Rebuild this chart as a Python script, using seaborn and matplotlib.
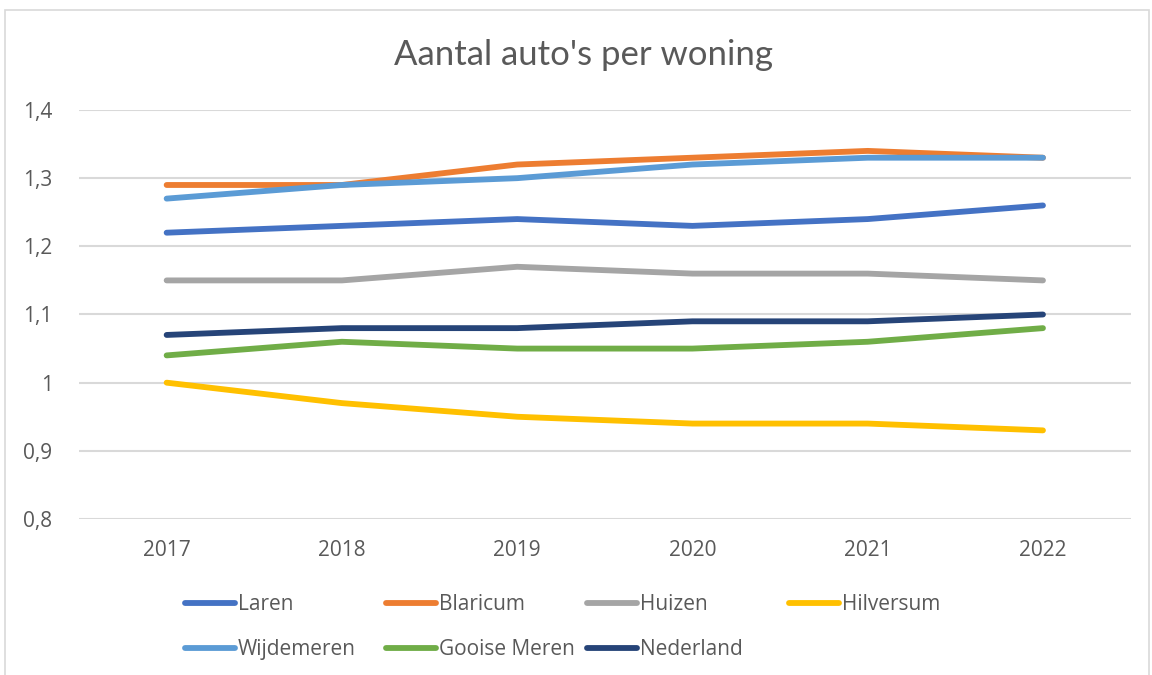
import numpy as np
import pandas as pd
import seaborn as sns
import matplotlib.pyplot as plt
from matplotlib.lines import Line2D
from matplotlib.patches import Rectangle

years = [2017, 2018, 2019, 2020, 2021, 2022]
laren = [1.22, 1.23, 1.24, 1.23, 1.24, 1.26]
blaricum = [1.29, 1.29, 1.32, 1.33, 1.34, 1.33]
huizen = [1.15, 1.15, 1.17, 1.16, 1.16, 1.15]
hilversum = [1.00, 0.97, 0.95, 0.94, 0.94, 0.93]
wijdemeren = [1.27, 1.29, 1.30, 1.32, 1.33, 1.33]
gooise_meren = [1.04, 1.06, 1.05, 1.05, 1.06, 1.08]
nederland = [1.07, 1.08, 1.08, 1.09, 1.09, 1.10]

names = ['Laren', 'Blaricum', 'Huizen', 'Hilversum', 'Wijdemeren', 'Gooise Meren', 'Nederland']
series = [laren, blaricum, huizen, hilversum, wijdemeren, gooise_meren, nederland]
colors = ['#4472C4', '#ED7D31', '#A5A5A5', '#FFC000', '#5B9BD5', '#70AD47', '#264478']

yticks = [0.8, 0.9, 1.0, 1.1, 1.2, 1.3, 1.4]
ytick_labels = ['0,8', '0,9', '1', '1,1', '1,2', '1,3', '1,4']

df = pd.DataFrame({
    'jaar': years * len(names),
    'waarde': np.concatenate(series),
    'gemeente': np.repeat(names, len(years)),
})

sns.set_theme(style='white')
plt.rcParams['font.family'] = ['Open Sans', 'DejaVu Sans']
txt = '#595959'
grid = '#D9D9D9'
lw = 4.2

fig = plt.figure(figsize=(11.52, 6.75), dpi=100)
ax = fig.add_axes([79 / 1152, 1 - 519 / 675, (1130.6 - 79) / 1152, (519 - 110) / 675])

sns.lineplot(data=df, x='jaar', y='waarde', hue='gemeente', hue_order=names,
             palette=dict(zip(names, colors)), lw=lw, solid_capstyle='round',
             sort=False, legend=False, ax=ax, zorder=3)

ax.set_xlim(2016.5, 2022.5)
ax.set_ylim(0.8, 1.4)
ax.set_xticks(years)
ax.set_xticklabels([str(y) for y in years], fontsize=15, color=txt)
ax.set_yticks(yticks)
ax.set_yticklabels(ytick_labels, fontsize=15, color=txt)
ax.tick_params(axis='x', length=0, pad=15)
ax.tick_params(axis='y', length=0, pad=19)
ax.set_xlabel('')
ax.set_ylabel('')
for s in ax.spines.values():
    s.set_visible(False)
for y in yticks:
    ax.axhline(y, color=grid, lw=1.5, zorder=1)

fig.text(583 / 1152, 1 - 55 / 675, "Aantal auto's per woning", ha='center', va='center',
         fontsize=25, color=txt, family=['Lato', 'DejaVu Sans'])

# legend: equal-width columns like the original
col_x = [185, 386, 587, 789]
cols = [[0, 4], [1, 5], [2, 6], [3]]
for cx, idx in zip(col_x, cols):
    handles = [Line2D([0], [0], color=colors[i], lw=lw, solid_capstyle='round') for i in idx]
    labels = [names[i] for i in idx]
    fig.legend(handles, labels, loc='upper left', bbox_to_anchor=(cx / 1152, 1 - 594 / 675),
               frameon=False, fontsize=15, handlelength=2.4, handletextpad=0.14,
               labelspacing=1.15, borderaxespad=0, borderpad=0, labelcolor=txt)

fig.patches.append(Rectangle((5 / 1152, -0.02), 1144 / 1152, 1.02 - 10 / 675,
                             transform=fig.transFigure, fill=False, edgecolor=grid, lw=1.2))

fig.savefig('out.png', dpi=100)
